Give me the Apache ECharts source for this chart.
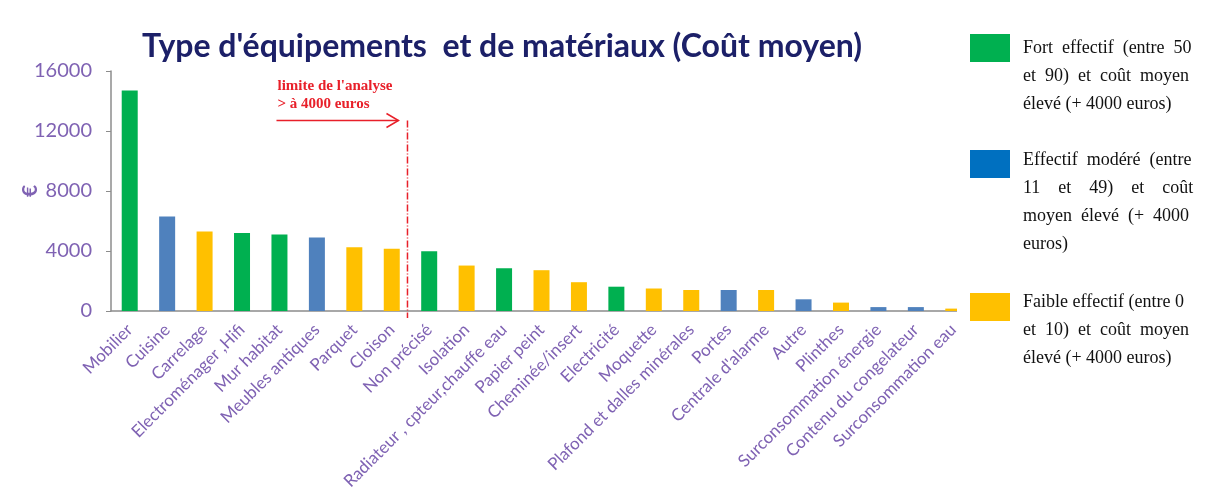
<!DOCTYPE html>
<html>
<head>
<meta charset="utf-8">
<title>Type d'équipements et de matériaux</title>
<script src="https://cdn.jsdelivr.net/npm/echarts@6/dist/echarts.min.js"></script>
<style>
  * { margin: 0; padding: 0; }
  html, body { background: #fff; }
  #main { width: 1231px; height: 499px; }
</style>
</head>
<body>
<div id="main"></div>
<script>
// données
var categories = ['Mobilier', 'Cuisine', 'Carrelage', 'Electroménager ,Hifi', 'Mur habitat',
  'Meubles antiques', 'Parquet', 'Cloison', 'Non précisé', 'Isolation',
  'Radiateur , cpteur,chauffe eau', 'Papier peint', 'Cheminée/insert', 'Electricité', 'Moquette',
  'Plafond et dalles minérales', 'Portes', "Centrale d'alarme", 'Autre', 'Plinthes',
  'Surconsommation énergie', 'Contenu du congelateur', 'Surconsommation eau'];
var values = [14700, 6300, 5300, 5200, 5100, 4900, 4250, 4150, 3980, 3030,
  2850, 2720, 1920, 1620, 1500, 1400, 1400, 1400, 780, 560, 260, 260, 160];
// 0 = fort effectif, 1 = effectif modéré, 2 = faible effectif
var groups = [0, 1, 2, 0, 0, 1, 2, 2, 0, 2, 0, 2, 2, 0, 2, 2, 1, 2, 1, 2, 1, 1, 2];
var yTicks = [0, 4000, 8000, 12000, 16000];
var legendTexts = [
  'Fort  effectif  (entre  50\net  90)  et  coût  moyen\nélevé (+ 4000 euros)',
  'Effectif  modéré  (entre\n11    et    49)    et    coût\nmoyen  élevé  (+  4000\neuros)',
  'Faible effectif (entre 0\net  10)  et  coût  moyen\nélevé (+ 4000 euros)'
];
var barColors = ['#00b050', '#4f81bd', '#ffc000'];
var legendColors = ['#00b050', '#0070c0', '#ffc000'];
var purple = '#7f62b3';
var red = '#e8202a';

var chart = echarts.init(document.getElementById('main'));

var barData = values.map(function (v, i) {
  return { value: v, itemStyle: { color: barColors[groups[i]] } };
});

chart.setOption({
  backgroundColor: '#fff',
  animation: false,
  title: {
    text: "Type d'équipements  et de matériaux (Coût moyen)",
    left: 497,
    top: 26,
    textAlign: 'center',
    textStyle: { fontFamily: 'Lato', fontWeight: 'bold', fontSize: 32, color: '#1c2068' }
  },
  grid: { left: 111, right: 259, top: 71, bottom: 188, outerBoundsMode: 'none' },
  xAxis: {
    type: 'category',
    data: categories,
    axisLine: { lineStyle: { color: '#8c8c8c', width: 1.5 } },
    axisTick: { alignWithLabel: false, length: 5, lineStyle: { color: '#8c8c8c' } },
    axisLabel: {
      interval: 0, rotate: 45, margin: 16,
      color: purple, fontFamily: 'Lato', fontSize: 17
    }
  },
  yAxis: {
    type: 'value',
    min: yTicks[0], max: yTicks[yTicks.length - 1], interval: yTicks[1] - yTicks[0],
    name: '€', nameLocation: 'middle', nameGap: 70, nameRotate: 90, nameMoveOverlap: false,
    nameTextStyle: { color: purple, fontFamily: 'Lato', fontWeight: 'bold', fontSize: 21 },
    axisLine: { show: true, lineStyle: { color: '#8c8c8c', width: 1.5 } },
    axisTick: { show: true, length: 5, lineStyle: { color: '#8c8c8c' } },
    splitLine: { show: false },
    axisLabel: {
      color: purple, fontFamily: 'Lato', fontSize: 20, margin: 19,
      formatter: function (v) { return String(v); }
    }
  },
  series: [{
    type: 'bar',
    barWidth: 16,
    data: barData
  }]
});

// annotation "limite de l'analyse" entre Cloison et Non précisé, placée avec les échelles
var xA = chart.convertToPixel({ xAxisIndex: 0 }, 7);
var xB = chart.convertToPixel({ xAxisIndex: 0 }, 8);
var xLim = (xA + xB) / 2 - 3;
var yTop = chart.convertToPixel({ yAxisIndex: 0 }, 12700);
var yBot = chart.convertToPixel({ yAxisIndex: 0 }, 0) + 7;

var graphics = [
  {
    type: 'line', z: 10,
    shape: { x1: xLim, y1: yTop, x2: xLim, y2: yBot },
    style: { stroke: red, lineWidth: 1.5, lineDash: [7, 2, 1, 2] }
  },
  {
    type: 'line', z: 10,
    shape: { x1: xLim - 131, y1: yTop, x2: xLim - 9, y2: yTop },
    style: { stroke: red, lineWidth: 1.5 }
  },
  {
    type: 'polyline', z: 10,
    shape: { points: [[xLim - 21, yTop - 7], [xLim - 9, yTop], [xLim - 21, yTop + 7]] },
    style: { stroke: red, lineWidth: 1.5, fill: null }
  },
  {
    type: 'text', z: 10, left: xLim - 130, top: yTop - 43,
    style: {
      text: "limite de l'analyse\n> à 4000 euros",
      fill: red, font: 'bold 15px "Liberation Serif"', lineHeight: 18
    }
  },
  // panneau de légende (blanc, recouvre la fin de l'axe comme sur l'original)
  {
    type: 'rect', z: 20,
    shape: { x: 957, y: 0, width: 274, height: 499 },
    style: { fill: '#fff' }
  }
];

var legendTops = [34, 146, 288];
var rectTops = [34, 150, 293];
legendTexts.forEach(function (t, i) {
  graphics.push({
    type: 'rect', z: 21,
    shape: { x: 970, y: rectTops[i], width: 40, height: 28 },
    style: { fill: legendColors[i] }
  });
  graphics.push({
    type: 'text', z: 21, left: 1023, top: legendTops[i],
    style: {
      text: t, fill: '#111',
      font: '18px "Liberation Serif"', lineHeight: 28
    }
  });
});

chart.setOption({ graphic: graphics });
</script>
</body>
</html>
